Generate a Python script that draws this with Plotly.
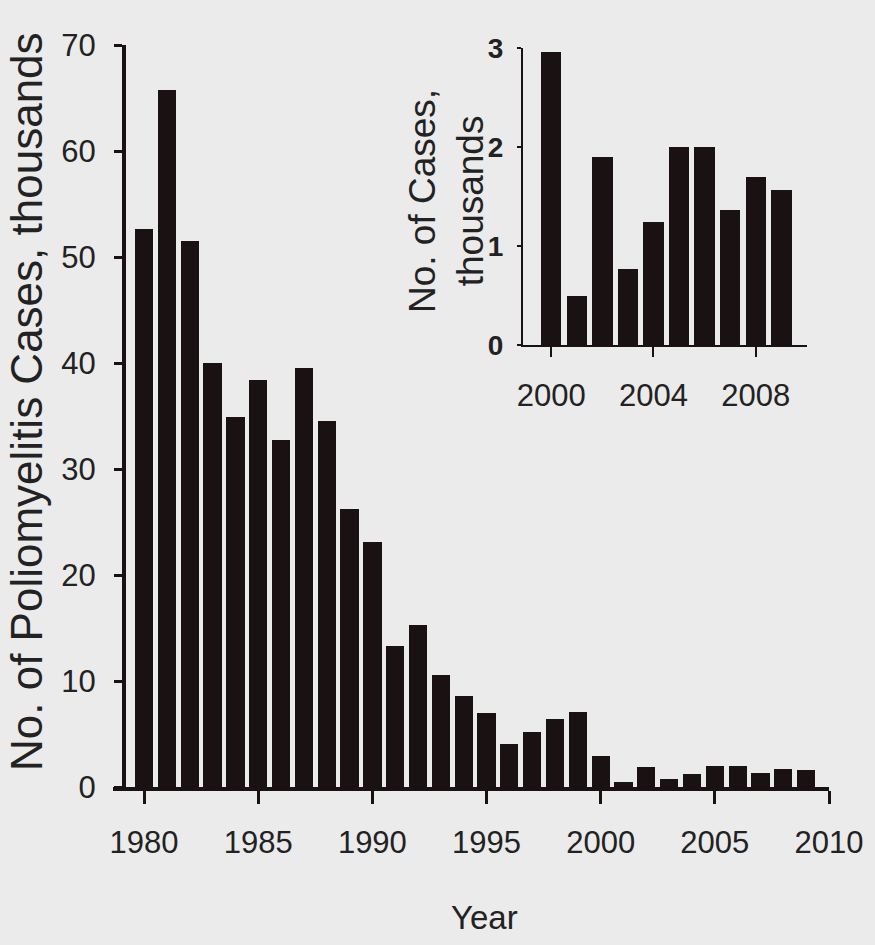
import plotly.graph_objects as go

# ---- data ----
years_main = list(range(1980, 2010))
cases_main = [52.6, 65.8, 51.5, 40.0, 34.9, 38.4, 32.7, 39.5, 34.5, 26.2,
              23.1, 13.3, 15.3, 10.6, 8.6, 7.0, 4.1, 5.2, 6.4, 7.1,
              2.96, 0.49, 1.90, 0.77, 1.24, 2.0, 2.0, 1.36, 1.70, 1.57]
years_inset = list(range(2000, 2010))
cases_inset = [2.96, 0.49, 1.90, 0.77, 1.24, 2.0, 2.0, 1.36, 1.70, 1.57]

main_xticks = [1980, 1985, 1990, 1995, 2000, 2005, 2010]
main_yticks = [0, 10, 20, 30, 40, 50, 60, 70]
inset_xticks = [2000, 2004, 2008]
inset_yticks = [0, 1, 2, 3]

W, H = 875, 945
BG = "#ebebeb"
INK = "#1a1212"
TXT = "#222222"
SANS = "Liberation Sans, Arial, sans-serif"

def fx(px):
    return px / W

def fy(py):
    return 1 - py / H

fig = go.Figure()
fig.add_trace(go.Bar(x=years_main, y=cases_main, width=0.8,
                     marker=dict(color=INK, line=dict(width=0)),
                     xaxis="x", yaxis="y", showlegend=False))
fig.add_trace(go.Bar(x=years_inset, y=cases_inset, width=0.8,
                     marker=dict(color=INK, line=dict(width=0)),
                     xaxis="x2", yaxis="y2", showlegend=False))

fig.update_layout(
    width=W, height=H,
    margin=dict(l=0, r=0, t=0, b=0, autoexpand=False),
    paper_bgcolor=BG, plot_bgcolor="rgba(0,0,0,0)",
    bargap=0,
    xaxis=dict(domain=[fx(113), fx(829)], range=[1978.64, 2010], anchor="y",
               automargin=False,
               tickvals=main_xticks, ticktext=[str(v) for v in main_xticks],
               ticks="outside", ticklen=13, tickwidth=3, tickcolor=INK,
               showline=True, linewidth=4, linecolor=INK, showgrid=False, zeroline=False,
               tickfont=dict(family=SANS, size=31, color=TXT), ticklabelstandoff=12),
    yaxis=dict(domain=[fy(787), fy(45)], range=[0, 70], anchor="free", position=fx(124),
               automargin=False,
               tickvals=main_yticks, ticks="outside", ticklen=8, tickwidth=3, tickcolor=INK,
               showline=True, linewidth=4, linecolor=INK, showgrid=False, zeroline=False,
               tickfont=dict(family=SANS, size=31, color=TXT), ticklabelstandoff=12),
    xaxis2=dict(domain=[fx(523), fx(807)], range=[1998.9, 2010], anchor="y2",
                automargin=False,
                tickvals=inset_xticks, ticks="outside", ticklen=10, tickwidth=2, tickcolor=INK,
                showline=True, linewidth=2, linecolor=INK, showgrid=False, zeroline=False,
                tickfont=dict(family=SANS, size=31, color=TXT), ticklabelstandoff=12),
    yaxis2=dict(domain=[fy(345), fy(48)], range=[0, 3], anchor="x2",
                automargin=False,
                tickvals=inset_yticks, ticks="outside", ticklen=4, tickwidth=2, tickcolor=INK,
                showline=True, linewidth=2, linecolor=INK, showgrid=False, zeroline=False,
                tickfont=dict(family=SANS, size=28, color=TXT, weight="bold"), ticklabelstandoff=8),
    annotations=[
        dict(text="No. of Poliomyelitis Cases, thousands", x=fx(26), y=fy(402),
             xref="paper", yref="paper", textangle=-90, showarrow=False,
             xanchor="center", yanchor="middle",
             font=dict(family=SANS, size=44, color=TXT)),
        dict(text="Year", x=fx(484), y=fy(917), xref="paper", yref="paper",
             showarrow=False, xanchor="center", yanchor="middle",
             font=dict(family=SANS, size=33, color=TXT)),
        dict(text="No. of Cases,<br>thousands", x=fx(446), y=fy(201),
             xref="paper", yref="paper", textangle=-90, showarrow=False,
             xanchor="center", yanchor="middle",
             font=dict(family=SANS, size=37, color=TXT)),
    ],
)

fig.write_html("out.html")
